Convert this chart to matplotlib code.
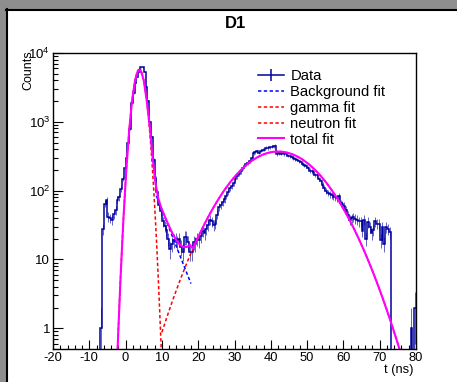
import matplotlib
matplotlib.use('Agg')
import matplotlib.pyplot as plt
from matplotlib.lines import Line2D
from matplotlib.patches import Rectangle
from matplotlib.ticker import MultipleLocator, LogLocator, NullFormatter
import numpy as np

plt.rcParams['font.family'] = ['Liberation Sans', 'DejaVu Sans']
plt.rcParams['mathtext.fontset'] = 'custom'
plt.rcParams['mathtext.rm'] = 'Liberation Sans'
plt.rcParams['mathtext.default'] = 'regular'
plt.rcParams['axes.unicode_minus'] = False

# D1 time-of-flight histogram, 0.5 ns bins from -20 to 80 ns
edges = np.arange(-20, 80.25, 0.5)
counts_before = [0] * 26                      # -20 .. -7.5
counts_gamma = [1, 28, 65, 72, 42, 40, 38, 46, 52, 74,          # -7 .. -2.5
                80, 105, 150, 210, 300, 500, 790, 1900, 2600, 3700,
                4500, 5300, 6200, 6200, 5300, 3200, 2000, 1000, 600, 280,
                150, 95, 62, 50, 36, 31, 27, 20, 14, 17,
                19, 20, 18, 20, 15, 13, 21, 21, 18, 13]         # .. 17.5
counts_neutron = [13, 18, 17, 20, 19, 22, 26, 24, 28, 32,       # 18 ..
                  38, 36, 32, 33, 45, 58, 62, 69, 75, 84,
                  96, 108, 118, 128, 150, 162, 176, 190, 212, 226,
                  246, 252, 266, 300, 352, 360, 372, 358, 378, 392,
                  396, 420, 414, 430, 436, 442, 452, 336, 352, 346,
                  356, 338, 348, 322, 316, 304, 300, 290, 282, 266,
                  258, 246, 238, 228, 214, 196, 190, 184, 170, 168,
                  148, 136, 122, 110, 100, 93, 88, 86, 81, 80,
                  78, 84, 66, 63, 60, 52, 44, 38, 40, 41,
                  39, 38, 36, 36, 26, 38, 20, 35, 30, 24,
                  27, 36, 33, 33, 19, 30, 17, 30, 28, 25]       # .. 72.5
counts_after = [0, 0, 0, 0, 0, 0, 0, 0, 0, 0, 0, 1, 0, 2]      # 73 .. 79.5
counts = np.array(counts_before + counts_gamma + counts_neutron + counts_after, dtype=float)

# fit results
gamma_amp, gamma_mean, gamma_sigma = 5800, 3.8, 1.39
bkg_amp, bkg_t0, bkg_decades_per_ns = 4.9, 17.7, 0.134
neutron_amp, neutron_mean, neutron_sigma = 370, 42.0, 9.2
gamma_range = (-3, 10)
bkg_range = (6, 18)
bkg_drawn_from = 8.5
neutron_range = (10, 76)
total_range = (-3, 76)


def gamma_fit(t):
    return gamma_amp * np.exp(-0.5 * ((t - gamma_mean) / gamma_sigma) ** 2)


def bkg_fit(t):
    return bkg_amp * 10 ** (-bkg_decades_per_ns * (t - bkg_t0))


def neutron_fit(t):
    return neutron_amp * np.exp(-0.5 * ((t - neutron_mean) / neutron_sigma) ** 2)


def total_fit(t):
    in_bkg = (t >= bkg_range[0]) & (t <= bkg_range[1])
    in_n = (t >= neutron_range[0])
    return gamma_fit(t) + bkg_fit(t) * in_bkg + neutron_fit(t) * in_n


data_color = '#00009e'
W, H = 457, 382
fig = plt.figure(figsize=(W / 100, H / 100), dpi=100)
fig.patch.set_facecolor('white')

# ROOT canvas window border
fig.patches.append(Rectangle((0, 0), 6 / W, 1, transform=fig.transFigure, color='#8e8e8e'))
fig.patches.append(Rectangle((0, 1 - 9 / H), 1, 9 / H, transform=fig.transFigure, color='#8e8e8e'))
fig.lines.append(Line2D([7 / W, 7 / W], [0, 1 - 9 / H], transform=fig.transFigure, color='black', lw=1.5))
fig.lines.append(Line2D([6 / W, 1], [1 - 10 / H, 1 - 10 / H], transform=fig.transFigure, color='black', lw=1.5))

ax = fig.add_axes([53 / W, 1 - 349 / H, (416 - 53) / W, (349 - 53) / H])
ax.set_yscale('log')
ax.set_xlim(-20, 80)
ax.set_ylim(0.5, 1e4)

shown = np.where(counts > 0, counts, 1e-3)
ax.stairs(shown, edges, color=data_color, lw=1.1, baseline=None)
centers = edges[:-1] + 0.25
m = counts > 0
err = np.sqrt(counts[m])
ax.vlines(centers[m], np.maximum(counts[m] - err, 1e-3), counts[m] + err,
          color=data_color, lw=0.7, alpha=0.6)

tg = np.linspace(*gamma_range, 100)
tb = np.linspace(bkg_drawn_from, bkg_range[1], 100)
tn = np.linspace(*neutron_range, 100)
tt = np.linspace(*total_range, 100)
dash = (0, (2.2, 1.6))
ax.plot(tn, neutron_fit(tn), color='red', lw=1.1, ls=dash)
ax.plot(tg, gamma_fit(tg), color='red', lw=1.1, ls=dash)
ax.plot(tb, bkg_fit(tb), color='blue', lw=1.1, ls=dash)
ax.plot(tt, total_fit(tt), color='magenta', lw=1.5)

ax.xaxis.set_major_locator(MultipleLocator(10))
ax.xaxis.set_minor_locator(MultipleLocator(2))
ax.set_yticks([1, 10, 100, 1000, 10000])
ax.set_yticklabels(['1', '10', '10$^{2}$', '10$^{3}$', '10$^{4}$'])
ax.yaxis.set_minor_locator(LogLocator(subs=range(2, 10)))
ax.yaxis.set_minor_formatter(NullFormatter())
ax.tick_params(axis='x', which='major', direction='in', length=6.3, width=0.8, labelsize=9.3, pad=2.5)
ax.tick_params(axis='x', which='minor', direction='in', length=2.9, width=0.8)
ax.tick_params(axis='y', which='major', direction='in', length=7.2, width=0.8, labelsize=9.5, pad=2)
ax.tick_params(axis='y', which='minor', direction='in', length=3.6, width=0.8)
for s in ax.spines.values():
    s.set_linewidth(1.0)

fig.text(235 / W, 1 - 24 / H, 'D1', fontsize=12, fontweight='bold', ha='center', va='center')
fig.text(28.5 / W, 1 - 50 / H, 'Counts', fontsize=9, rotation=90, ha='center', va='top')
fig.text(414 / W, 1 - 370 / H, 't (ns)', fontsize=9.3, ha='right', va='center')

handles = [
    Line2D([], [], color=data_color, lw=1.1, marker='|', markersize=8, mew=1.1),
    Line2D([], [], color='blue', lw=1.1, ls=dash),
    Line2D([], [], color='red', lw=1.1, ls=dash),
    Line2D([], [], color='red', lw=1.1, ls=dash),
    Line2D([], [], color='magenta', lw=1.5),
]
labels = ['Data', 'Background fit', 'gamma fit', 'neutron fit', 'total fit']
fig.legend(handles, labels, loc='upper left', bbox_to_anchor=(258 / W, 1 - 69.5 / H),
           frameon=False, fontsize=10.6, borderpad=0, borderaxespad=0,
           handlelength=1.75, handletextpad=0.45, labelspacing=0.12)

fig.savefig('out.png', dpi=100)
